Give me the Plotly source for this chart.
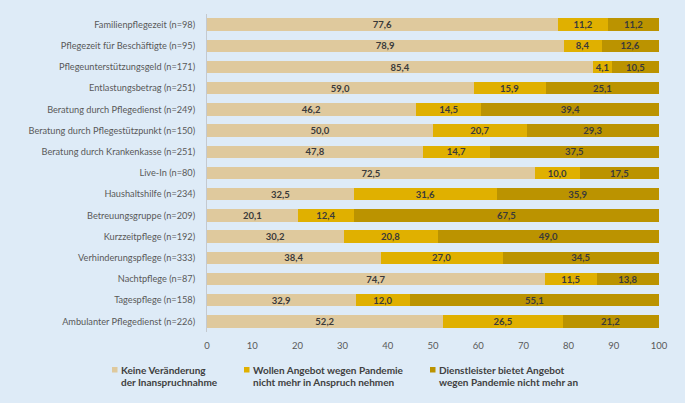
import plotly.graph_objects as go

categories = [
    "Familienpflegezeit (n=98)",
    "Pflegezeit für Beschäftigte (n=95)",
    "Pflegeunterstützungsgeld (n=171)",
    "Entlastungsbetrag (n=251)",
    "Beratung durch Pflegedienst (n=249)",
    "Beratung durch Pflegestützpunkt (n=150)",
    "Beratung durch Krankenkasse (n=251)",
    "Live-In (n=80)",
    "Haushaltshilfe (n=234)",
    "Betreuungsgruppe (n=209)",
    "Kurzzeitpflege (n=192)",
    "Verhinderungspflege (n=333)",
    "Nachtpflege (n=87)",
    "Tagespflege (n=158)",
    "Ambulanter Pflegedienst (n=226)",
]
keine_veraenderung = [77.6, 78.9, 85.4, 59.0, 46.2, 50.0, 47.8, 72.5, 32.5, 20.1, 30.2, 38.4, 74.7, 32.9, 52.2]
wollen_nicht_mehr = [11.2, 8.4, 4.1, 15.9, 14.5, 20.7, 14.7, 10.0, 31.6, 12.4, 20.8, 27.0, 11.5, 12.0, 26.5]
dienstleister_nicht = [11.2, 12.6, 10.5, 25.1, 39.4, 29.3, 37.5, 17.5, 35.9, 67.5, 49.0, 34.5, 13.8, 55.1, 21.2]
series_names = [
    ["Keine Veränderung", "der Inanspruchnahme"],
    ["Wollen Angebot wegen Pandemie", "nicht mehr in Anspruch nehmen"],
    ["Dienstleister bietet Angebot", "wegen Pandemie nicht mehr an"],
]
x_ticks = [0, 10, 20, 30, 40, 50, 60, 70, 80, 90, 100]

colors = ["#dfc99d", "#e0b000", "#bb9300"]
FONT = "Lato, Liberation Sans, sans-serif"
W, H = 685, 403
ML, MR, MT, MB = 207, 26, 14, 71
PW, PH = W - ML - MR, H - MT - MB

fig = go.Figure()
for i, (vals, name) in enumerate(zip([keine_veraenderung, wollen_nicht_mehr, dienstleister_nicht], series_names)):
    fig.add_trace(go.Bar(
        y=categories, x=vals, orientation="h", name=" ".join(name),
        marker=dict(color=colors[i], line=dict(width=0)),
        texttemplate="%{x:.1f}", textposition="inside", insidetextanchor="middle",
        constraintext="none",
        textfont=dict(family=FONT, size=9.5, color="#3a3a3a", weight="bold"),
        showlegend=False, hoverinfo="skip",
    ))

# legend drawn manually (small square swatches, two-line labels)
def px_x(px):
    return (px - ML) / PW

def px_y(py):
    return (H - MB - py) / PH

legend_x = [112, 244, 430]
for i, (lx, name) in enumerate(zip(legend_x, series_names)):
    fig.add_shape(type="rect", xref="paper", yref="paper",
                  x0=px_x(lx), x1=px_x(lx + 5.5), y0=px_y(372.5), y1=px_y(367),
                  fillcolor=colors[i], line=dict(width=0))
    for j, line in enumerate(name):
        fig.add_annotation(xref="paper", yref="paper", x=px_x(lx + 7), y=px_y(370 + 11.5 * j),
                           xanchor="left", yanchor="middle", showarrow=False, text=line,
                           font=dict(family=FONT, size=10, color="#404040", weight="bold"))

fig.update_layout(
    width=W, height=H,
    paper_bgcolor="#deebf7", plot_bgcolor="#deebf7",
    barmode="stack", bargap=0.42,
    separators=",.",
    showlegend=False,
    margin=dict(l=ML, r=MR, t=MT, b=MB, autoexpand=False),
    font=dict(family=FONT, size=9.2, color="#595959"),
    xaxis=dict(range=[0, 100], tickvals=x_ticks, showgrid=False, zeroline=False,
               showline=False, ticks="", ticklabelstandoff=6, automargin=False,
               tickfont=dict(size=9.5, color="#595959")),
    yaxis=dict(autorange="reversed", showgrid=False, zeroline=False,
               showline=True, linecolor="#c4c9cf", linewidth=1, ticks="",
               ticklabelstandoff=9, automargin=False,
               tickfont=dict(size=9.2, color="#595959")),
)
fig.write_html("out.html", config={"displayModeBar": False},
               post_script="document.body.style.margin='0';")
